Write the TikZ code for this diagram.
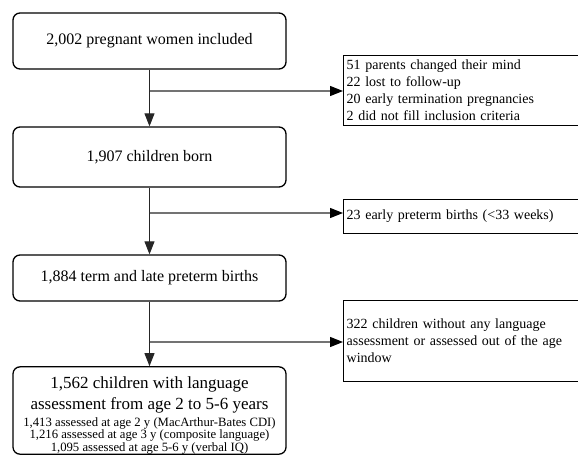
\documentclass[tikz,border=0pt]{standalone}
\usepackage{fontspec}
\setmainfont{Liberation Serif}
\usetikzlibrary{arrows.meta,calc}
\begin{document}
\begin{tikzpicture}[x=1pt,y=-1pt,
  mainbox/.style={draw=black, rounded corners=7pt, line width=1.3pt, minimum width=273pt, inner sep=0pt, align=center, font=\fontsize{16}{19}\selectfont},
  sidebox/.style={draw=black, line width=1.3pt, anchor=north west, minimum width=250pt, text width=244pt, inner sep=2pt, align=left, font=\fontsize{14}{17}\selectfont},
  vconn/.style={draw=black!85, line width=0.9pt, -{Triangle[length=13pt,width=10pt]}},
  hconn/.style={draw=black!55, line width=1.2pt, -{Triangle[length=13pt,width=10pt,color=black]}}
]
\useasboundingbox (0,0) rectangle (578,455);
\node[mainbox, minimum height=56pt] (b1) at (149.5,41) {2,002 pregnant women included};
\node[mainbox, minimum height=60pt] (b2) at (149.5,157) {1,907 children born};
\node[mainbox, minimum height=46pt] (b3) at (149.5,278) {1,884 term and late preterm births};
\node[mainbox, minimum height=87pt] (b4) at (149.5,410.5) {\begin{minipage}{270pt}\centering
\vspace*{10pt}
{\fontsize{17}{21}\selectfont 1,562 children with language\\assessment from age 2 to 5-6 years\par}
\vspace{4pt}
{\fontsize{12.7}{12.6}\selectfont 1,413 assessed at age 2 y (MacArthur-Bates CDI)\\1,216 assessed at age 3 y (composite language)\\1,095 assessed at age 5-6 y (verbal IQ)\par}
\end{minipage}};
\node[sidebox, minimum height=70pt] (r1) at (343,55) {51 parents changed their mind\\22 lost to follow-up\\20 early termination pregnancies\\2 did not fill inclusion criteria};
\node[sidebox, minimum height=34pt] (r2) at (343,199) {23 early preterm births (<33 weeks)};
\node[sidebox, minimum height=81pt] (r3) at (343,300) {322 children without any language\\assessment or assessed out of the age\\window};
\coordinate (j1) at (149.5,91);
\coordinate (j2) at (149.5,213);
\coordinate (j3) at (149.5,342);
\draw[vconn] (b1) -- (b2);
\draw[vconn] (b2) -- (b3);
\draw[vconn] (b3) -- (b4);
\draw[hconn] (j1) -- (j1 -| r1.west);
\draw[hconn] (j2) -- (j2 -| r2.west);
\draw[hconn] (j3) -- (j3 -| r3.west);
\end{tikzpicture}
\end{document}
